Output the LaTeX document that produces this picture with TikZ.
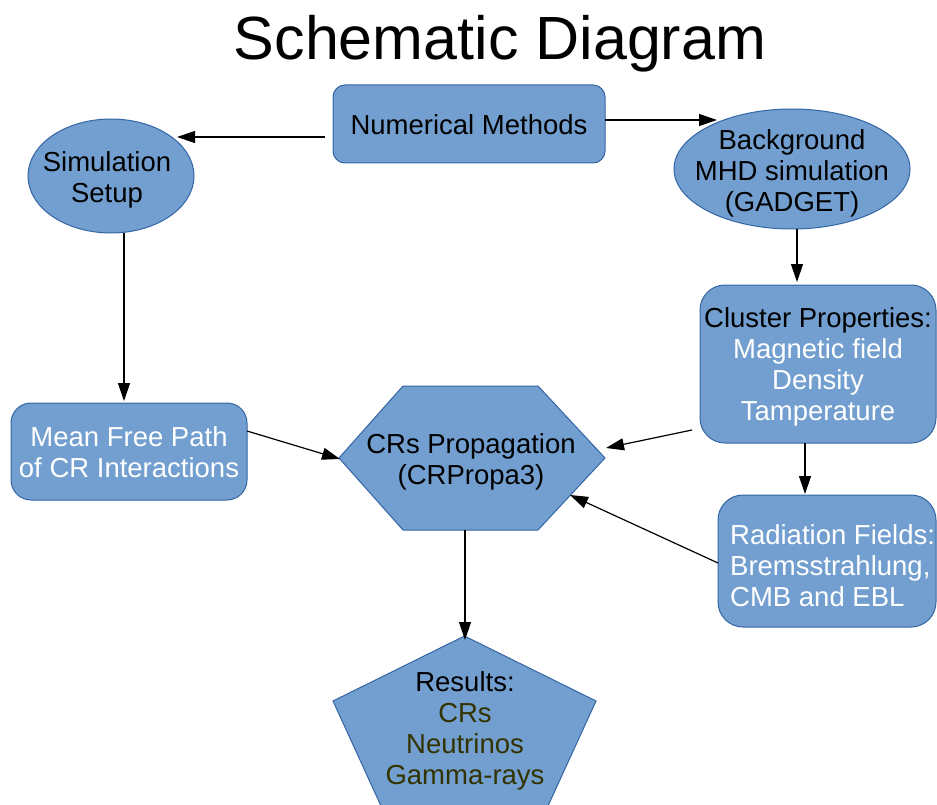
\documentclass[tikz,border=0pt]{standalone}
\usepackage{fontspec}
\setmainfont{Liberation Sans}
\usetikzlibrary{arrows.meta,shapes.geometric}
\definecolor{boxfill}{HTML}{729FCF}
\definecolor{boxline}{HTML}{3465A4}
\definecolor{olivetext}{HTML}{333300}
\begin{document}
\begin{tikzpicture}[x=1pt,y=-1pt,
  shapebox/.style={draw=boxline,fill=boxfill,line width=1pt},
  lbl/.style={font=\fontsize{27.5}{31}\selectfont,align=center,inner sep=0pt},
  conn/.style={line width=1.2pt,-{Triangle[length=18pt,width=12pt]}}]
\useasboundingbox (0,0) rectangle (937,805);
% title
\node[font=\fontsize{61}{70}\selectfont,inner sep=0pt,anchor=base] (title) at (500,60) {Schematic Diagram};
% shapes
\node[shapebox,rounded corners=12pt,minimum width=272pt,minimum height=78pt] (numbox) at (469,124) {};
\node[lbl] (num) at (469,125) {Numerical Methods};
\draw[shapebox] (111,176) ellipse [x radius=83, y radius=57];
\node[lbl] (sim) at (107,180) {Simulation\\Setup};
\draw[shapebox] (792,169) ellipse [x radius=118, y radius=60];
\node[lbl] (bg) at (792,173) {Background\\MHD simulation\\(GADGET)};
\node[shapebox,rounded corners=25pt,minimum width=236pt,minimum height=158pt] (clubox) at (818,364) {};
\node[lbl] (clu) at (818,367) {Cluster Properties:\\\textcolor{white}{Magnetic field}\\\textcolor{white}{Density}\\\textcolor{white}{Tamperature}};
\node[shapebox,rounded corners=25pt,minimum width=218pt,minimum height=132pt] (radbox) at (827,561) {};
\node[lbl,align=left,anchor=west,text=white] (rad) at (730,566) {Radiation Fields:\\Bremsstrahlung,\\CMB and EBL};
\node[shapebox,rounded corners=20pt,minimum width=236pt,minimum height=97pt] (mfpbox) at (129,451.5) {};
\node[lbl,text=white] (mfp) at (129,452.5) {Mean Free Path\\of CR Interactions};
\draw[shapebox] (403,386) coordinate (hexTL) -- (538,386) coordinate (hexTR) -- (605,458) coordinate (hexR) -- (538,530) coordinate (hexBR) -- (403,530) coordinate (hexBL) -- (339,458) coordinate (hexL) -- cycle;
\node[lbl] (crp) at (471,462) {CRs Propagation\\(CRPropa3)};
\draw[shapebox] (464.5,636) coordinate (penT) -- (596,701) coordinate (penR) -- (537,830) -- (392,830) -- (333,701) coordinate (penL) -- cycle;
\node[lbl] (res) at (465,731) {Results:\\\textcolor{olivetext}{CRs}\\\textcolor{olivetext}{Neutrinos}\\\textcolor{olivetext}{Gamma-rays}};
% connector end points
\coordinate (a1s) at (325,137); \coordinate (a1e) at (177,137);
\coordinate (a2s) at (605,120); \coordinate (a2e) at (717,120);
\coordinate (a3s) at (124,233); \coordinate (a3e) at (124,401);
\coordinate (a4s) at (797,229); \coordinate (a4e) at (797,282);
\coordinate (a5s) at (805,443); \coordinate (a5e) at (805,494);
\coordinate (a6s) at (247,431); \coordinate (a6e) at (340,459);
\coordinate (a7s) at (692,430); \coordinate (a7e) at (606,448);
\coordinate (a8s) at (718,563); \coordinate (a8e) at (570,495);
\coordinate (a9s) at (465,530); \coordinate (a9e) at (465,640);
\draw[conn] (a1s) -- (a1e);
\draw[conn] (a2s) -- (a2e);
\draw[conn] (a3s) -- (a3e);
\draw[conn] (a4s) -- (a4e);
\draw[conn] (a5s) -- (a5e);
\draw[conn] (a6s) -- (a6e);
\draw[conn] (a7s) -- (a7e);
\draw[conn] (a8s) -- (a8e);
\draw[conn] (a9s) -- (a9e);
\end{tikzpicture}
\end{document}
